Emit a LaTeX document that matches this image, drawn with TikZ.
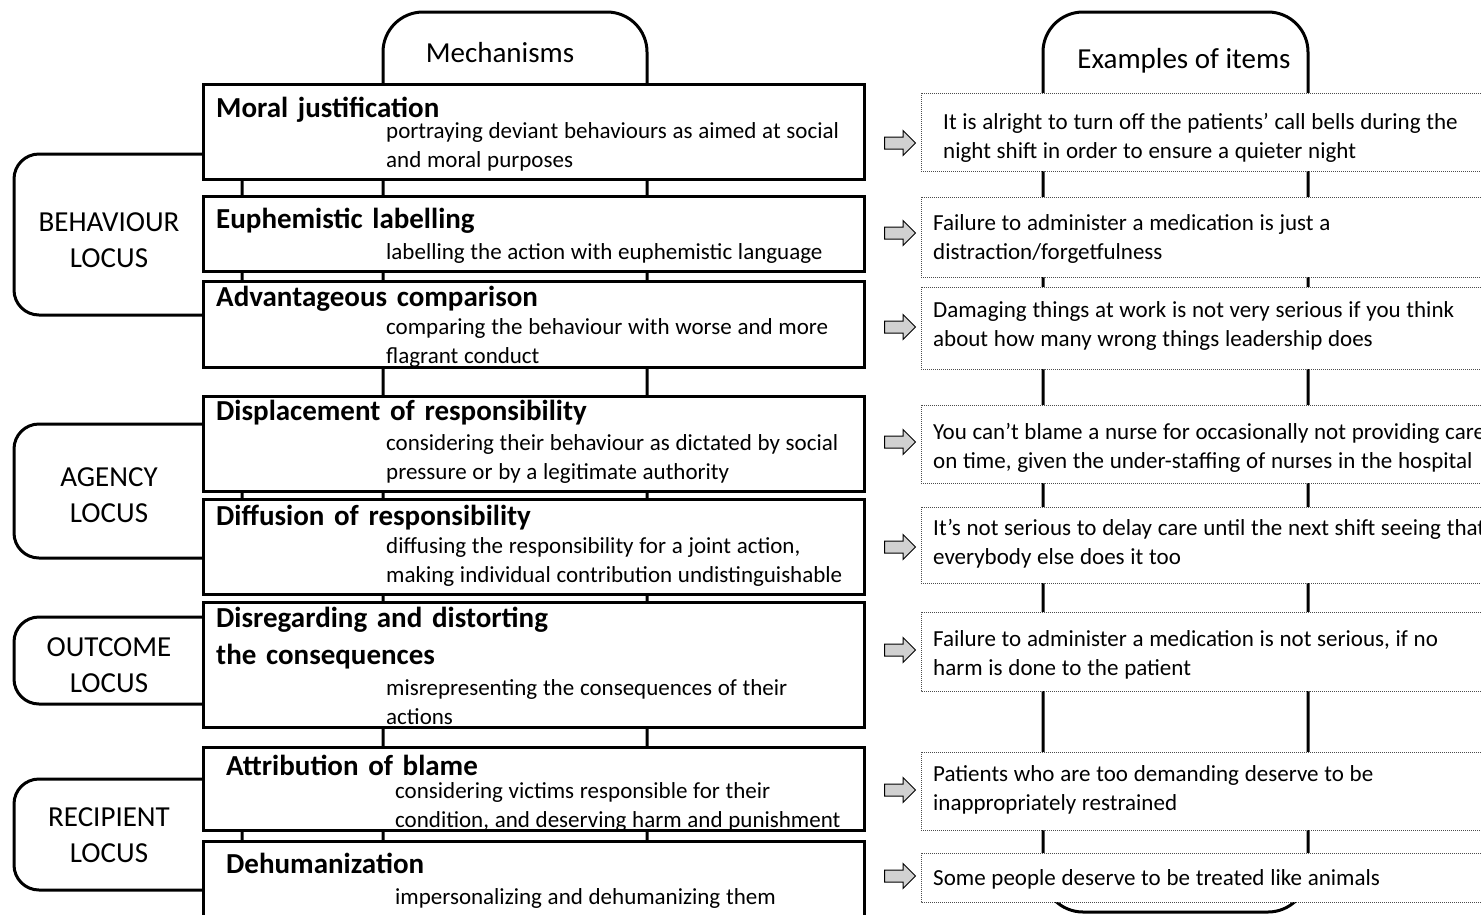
\documentclass[tikz,border=0pt]{standalone}
\usepackage{fontspec}
\setmainfont{Carlito}
\usetikzlibrary{shapes.arrows,positioning}
\newcommand\tightsp{\spaceskip=0.25em\relax}

\begin{document}
\begin{tikzpicture}[x=1pt,y=-1pt,
    tab/.style={draw=black,line width=3pt,rounded corners=40pt},
    locus/.style={draw=black,line width=3pt,fill=white,rounded corners=25pt},
    mech/.style={draw=black,line width=3pt,fill=white},
    item/.style={draw=black!70,densely dotted,line width=1pt,fill=white},
    head/.style={font=\fontsize{29}{35}\selectfont,anchor=base},
    loc/.style={font=\fontsize{29}{36}\selectfont,text width=200pt,align=center,anchor=base},
    title/.style={font=\fontsize{29}{37}\selectfont\bfseries,text width=600pt,align=left,anchor=base west},
    desc/.style={font=\fontsize{23}{29}\selectfont,execute at begin node=\tightsp,text width=470pt,align=left,anchor=base west},
    ex/.style={font=\fontsize{23}{29}\selectfont,execute at begin node=\tightsp,text width=700pt,align=left,anchor=base west},
    pointer/.style={single arrow,draw=black,fill=black!18,line width=1pt,
      minimum height=31pt,minimum width=24pt,single arrow head extend=6.5pt,inner sep=5.5pt}]
                \tikzstyle{every node}+=[inner sep=0pt]
                \clip (0,0) rectangle (1481,914);
                \draw [tab] (383,950) -- (383,12) -- (647,12) -- (647,950);
                \draw [tab] (1043,12) rectangle (1308,912);
                \draw (500,62) node [head] (mechhead) {Mechanisms};
                \draw (1184,68) node [head] (exhead) {Examples of items};
                \draw [locus] (14,154) rectangle (242,315);
                \draw [locus] (14,424) rectangle (242,558);
                \draw [locus] (14,617) rectangle (242,704);
                \draw [locus] (14,779) rectangle (242,890);
                \draw (109,231) node [loc] (behaviour) {BEHAVIOUR\\LOCUS};
                \draw (109,486) node [loc] (agency) {AGENCY\\LOCUS};
                \draw (109,656) node [loc] (outcome) {OUTCOME\\LOCUS};
                \draw (109,826) node [loc] (recipient) {RECIPIENT\\LOCUS};
                \draw [mech] (203,84) rectangle (864,179);
                \draw [mech] (203,196) rectangle (864,271);
                \draw [mech] (203,281) rectangle (864,367);
                \draw [mech] (203,396) rectangle (864,491);
                \draw [mech] (203,499) rectangle (864,594);
                \draw [mech] (203,602) rectangle (864,727);
                \draw [mech] (203,747) rectangle (864,830);
                \draw [mech] (203,841) rectangle (864,940);
                \draw (216,117) node [title] (justif) {Moral justification};
                \draw (386,138) node [desc] (justifdesc) {portraying deviant behaviours as aimed at social\\and moral purposes};
                \draw (216,228) node [title] (euphem) {Euphemistic labelling};
                \draw (386,259) node [desc] (euphemdesc) {labelling the action with euphemistic language};
                \draw (216,306) node [title] (compar) {Advantageous comparison};
                \draw (386,334) node [desc] (compardesc) {comparing the behaviour with worse and more\\flagrant conduct};
                \draw (216,420) node [title] (displ) {Displacement of responsibility};
                \draw (386,450) node [desc] (displdesc) {considering their behaviour as dictated by social\\pressure or by a legitimate authority};
                \draw (216,525) node [title] (diffus) {Diffusion of responsibility};
                \draw (386,553) node [desc] (diffusdesc) {diffusing the responsibility for a joint action,\\making individual contribution undistinguishable};
                \draw (216,627) node [title] (disreg) {Disregarding and distorting\\the consequences};
                \draw (386,695) node [desc] (disregdesc) {misrepresenting the consequences of their\\actions};
                \draw (226,775) node [title] (blame) {Attribution of blame};
                \draw (395,798) node [desc] (blamedesc) {considering victims responsible for their\\condition, and deserving harm and punishment};
                \draw (226,873) node [title] (dehum) {Dehumanization};
                \draw (395,904) node [desc] (dehumdesc) {impersonalizing and dehumanizing them};
                \draw [item] (921,93) rectangle (1495,171);
                \draw [item] (921,197) rectangle (1495,277);
                \draw [item] (921,287) rectangle (1495,369);
                \draw [item] (921,405) rectangle (1495,483);
                \draw [item] (921,507) rectangle (1495,583);
                \draw [item] (921,612) rectangle (1495,691);
                \draw [item] (921,752) rectangle (1495,830);
                \draw [item] (921,853) rectangle (1495,902);
                \draw (943,129) node [ex] (ex1) {It is alright to turn off the patients’ call bells during the\\night shift in order to ensure a quieter night};
                \draw (933,230) node [ex] (ex2) {Failure to administer a medication is just a\\distraction/forgetfulness};
                \draw (933,317) node [ex] (ex3) {Damaging things at work is not very serious if you think\\about how many wrong things leadership does};
                \draw (933,439) node [ex] (ex4) {You can’t blame a nurse for occasionally not providing care\\on time, given the under-staffing of nurses in the hospital};
                \draw (933,535) node [ex] (ex5) {It’s not serious to delay care until the next shift seeing that\\everybody else does it too};
                \draw (933,646) node [ex] (ex6) {Failure to administer a medication is not serious, if no\\harm is done to the patient};
                \draw (933,781) node [ex] (ex7) {Patients who are too demanding deserve to be\\inappropriately restrained};
                \draw (933,885) node [ex] (ex8) {Some people deserve to be treated like animals};
                \draw (897,143) node [pointer] (p1) {};
                \draw (897,233) node [pointer] (p2) {};
                \draw (897,327) node [pointer] (p3) {};
                \draw (897,442) node [pointer] (p4) {};
                \draw (897,547) node [pointer] (p5) {};
                \draw (897,650) node [pointer] (p6) {};
                \draw (897,790) node [pointer] (p7) {};
                \draw (897,876) node [pointer] (p8) {};
            \end{tikzpicture}
\end{document}
